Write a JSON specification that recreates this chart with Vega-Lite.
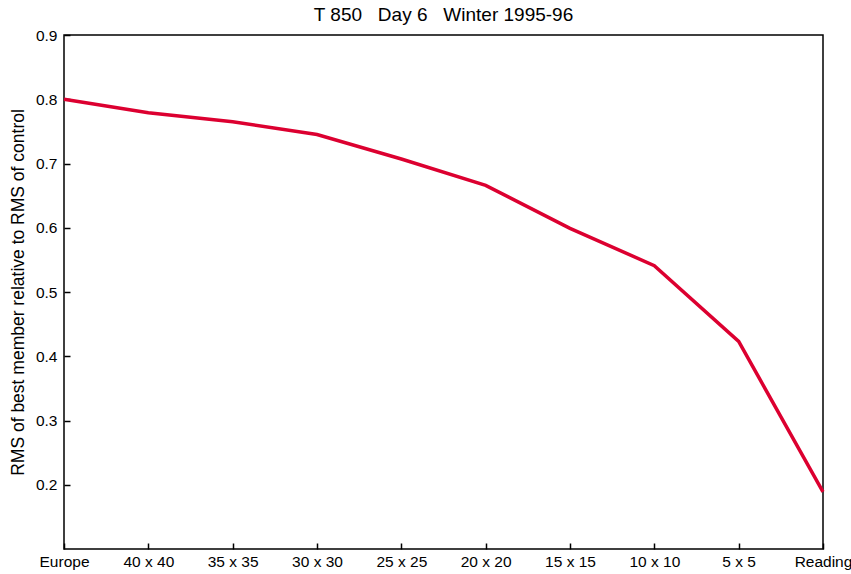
{
  "$schema": "https://vega.github.io/schema/vega-lite/v6.json",
  "width": 759,
  "height": 514,
  "autosize": {"type": "none"},
  "padding": {"left": 64, "top": 35, "right": 28, "bottom": 25},
  "background": "white",
  "config": {
    "font": "Liberation Sans",
    "view": {"stroke": "black", "strokeWidth": 1.5},
    "title": {"fontSize": 19, "fontWeight": "normal", "color": "black", "offset": 3}
  },
  "title": "T 850\u00a0\u00a0\u00a0Day 6\u00a0\u00a0\u00a0Winter 1995-96",
  "data": {
    "values": [
      {"region": "Europe", "rms": 0.800},
      {"region": "40 x 40", "rms": 0.779},
      {"region": "35 x 35", "rms": 0.765},
      {"region": "30 x 30", "rms": 0.745},
      {"region": "25 x 25", "rms": 0.707},
      {"region": "20 x 20", "rms": 0.666},
      {"region": "15 x 15", "rms": 0.599},
      {"region": "10 x 10", "rms": 0.541},
      {"region": "5 x 5", "rms": 0.423},
      {"region": "Reading", "rms": 0.189}
    ]
  },
  "mark": {"type": "line", "color": "#dc0030", "strokeWidth": 3.5},
  "encoding": {
    "x": {
      "field": "region",
      "type": "ordinal",
      "sort": null,
      "scale": {"type": "point", "padding": 0},
      "axis": {
        "title": null,
        "labelAngle": 0,
        "labelFontSize": 15.5,
        "labelColor": "black",
        "labelPadding": 11,
        "tickSize": -6,
        "tickColor": "black",
        "tickWidth": 1.5,
        "domain": false,
        "grid": false
      }
    },
    "y": {
      "field": "rms",
      "type": "quantitative",
      "scale": {"domain": [0.1, 0.9], "nice": false, "zero": false},
      "axis": {
        "title": "RMS of best member relative to RMS of control",
        "titleFontSize": 17.5,
        "titleFontWeight": "normal",
        "titleColor": "black",
        "titlePadding": 8,
        "values": [0.2, 0.3, 0.4, 0.5, 0.6, 0.7, 0.8, 0.9],
        "format": ".1f",
        "labelFontSize": 15.5,
        "labelColor": "black",
        "labelPadding": 13,
        "tickSize": -6,
        "tickColor": "black",
        "tickWidth": 1.5,
        "domain": false,
        "grid": false
      }
    }
  }
}
